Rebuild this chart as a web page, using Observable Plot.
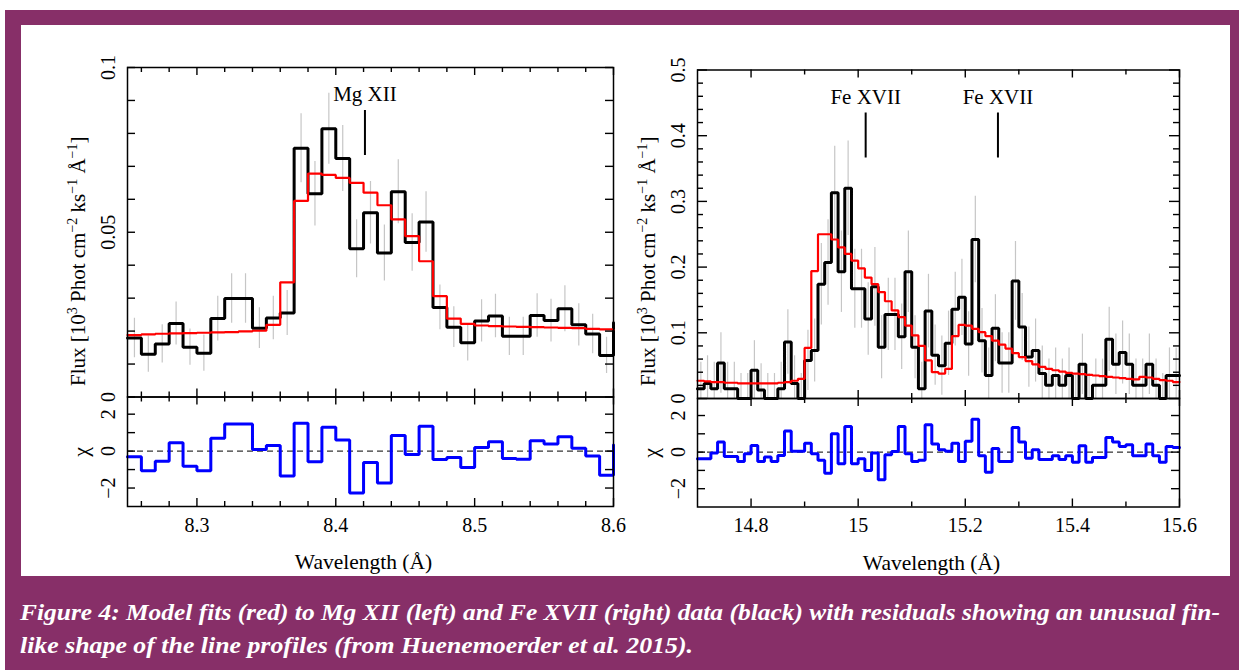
<!DOCTYPE html>
<html>
<head>
<meta charset="utf-8">
<script src="https://cdn.jsdelivr.net/npm/d3@7"></script>
<script src="https://cdn.jsdelivr.net/npm/@observablehq/plot@0.6"></script>
<style>
  html, body { margin: 0; padding: 0; background: #fff; }
  #page { position: relative; width: 1239px; height: 670px; overflow: hidden; }
  #band { position: absolute; left: 5px; top: 10px; width: 1234px; height: 660px; background: #872f68; }
  #sheet { position: absolute; left: 21px; top: 25px; width: 1209px; height: 551px; background: #fff; }
  #page svg { position: absolute; left: 0; top: 0; }
</style>
</head>
<body>
<div id="page">
  <div id="band"></div>
  <div id="sheet"></div>
</div>
<script>
// ---------- Mg XII (left) : 0.01 Å bins starting at 8.25 Å ----------
const mgStart = 8.25;
const mgBin = 0.01;
// last entry is the bin just past 8.6 Å (only its edge shows)
const mgFlux = [0.0179,0.0130,0.0161,0.0223,0.0151,0.0133,0.0238,0.0299,0.0299,0.0209,0.0240,0.0255,0.0755,0.0617,0.0814,0.0724,0.0450,0.0559,0.0437,0.0623,0.0469,0.0531,0.0272,0.0212,0.0165,0.0231,0.0246,0.0184,0.0184,0.0247,0.0232,0.0268,0.0219,0.0191,0.0126,0.0225];
const mgModel = [0.0188,0.0190,0.0192,0.0193,0.0194,0.0195,0.0196,0.0197,0.0199,0.0201,0.0219,0.0348,0.0595,0.0678,0.0674,0.0665,0.0650,0.0620,0.0582,0.0539,0.0488,0.0412,0.0306,0.0238,0.0222,0.0217,0.0215,0.0214,0.0213,0.0212,0.0211,0.0210,0.0209,0.0207,0.0205,0.0204];
const mgErr = [0.0060,0.0055,0.0058,0.0065,0.0055,0.0055,0.0068,0.0075,0.0075,0.0062,0.0066,0.0068,0.0105,0.0098,0.0108,0.0100,0.0088,0.0095,0.0085,0.0097,0.0087,0.0092,0.0068,0.0062,0.0056,0.0064,0.0066,0.0058,0.0058,0.0066,0.0065,0.0070,0.0064,0.0060,0.0055];
const mgChi = [-0.31,-1.07,-0.55,0.45,-0.82,-1.07,0.69,1.47,1.47,0.09,0.31,-1.35,1.51,-0.58,1.29,0.60,-2.27,-0.62,-1.73,0.85,-0.18,1.35,-0.45,-0.35,-0.89,0.20,0.51,-0.40,-0.44,0.56,0.38,0.78,0.15,-0.27,-1.31,0.33];
const mgLines = [{ion: "Mg XII", wavelength: 8.421}];

// ---------- Fe XVII (right) : 0.0125 Å bins starting at 14.7 Å ----------
const feStart = 14.7;
const feBin = 0.0125;
const feFlux = [0.015,0.023,0.015,0.054,0.015,0.015,0.0,0.0,0.043,0.013,0.0,0.0,0.015,0.086,0.023,0.0,0.058,0.073,0.174,0.207,0.313,0.193,0.32,0.167,0.167,0.121,0.17,0.078,0.128,0.128,0.094,0.193,0.078,0.015,0.133,0.066,0.05,0.084,0.136,0.154,0.083,0.242,0.088,0.035,0.107,0.054,0.054,0.179,0.109,0.063,0.073,0.038,0.02,0.035,0.02,0.035,0.0,0.052,0.0,0.02,0.02,0.09,0.052,0.07,0.052,0.02,0.02,0.052,0.02,0.0,0.035,0.035,0.035];
const feModel = [0.027,0.026,0.025,0.025,0.024,0.024,0.023,0.023,0.023,0.023,0.023,0.023,0.024,0.025,0.027,0.030,0.077,0.194,0.25,0.25,0.242,0.23,0.22,0.21,0.198,0.184,0.174,0.162,0.148,0.134,0.124,0.111,0.096,0.08,0.058,0.04,0.038,0.045,0.095,0.112,0.111,0.106,0.101,0.095,0.088,0.082,0.076,0.069,0.063,0.057,0.052,0.048,0.045,0.043,0.041,0.039,0.038,0.037,0.036,0.035,0.034,0.033,0.032,0.031,0.030,0.029,0.033,0.032,0.030,0.028,0.027,0.025,0.025];
const feErr = [0.040,0.042,0.040,0.046,0.040,0.040,0.038,0.038,0.045,0.040,0.038,0.038,0.040,0.049,0.042,0.038,0.046,0.048,0.062,0.065,0.071,0.062,0.072,0.060,0.060,0.055,0.060,0.048,0.055,0.055,0.050,0.062,0.048,0.040,0.056,0.046,0.045,0.049,0.056,0.058,0.049,0.066,0.049,0.042,0.051,0.046,0.046,0.060,0.051,0.046,0.048,0.042,0.040,0.042,0.040,0.042,0.038,0.046,0.038,0.040,0.040,0.049,0.046,0.048,0.046,0.040,0.040,0.046,0.040,0.038,0.042,0.042];
const feChi = [-0.36,-0.36,-0.05,0.55,-0.24,-0.24,-0.51,-0.09,0.36,-0.51,-0.27,-0.51,-0.18,1.15,0.05,0.05,0.49,-0.09,-0.45,-1.15,1.0,-0.64,1.4,-0.64,-0.36,-1.0,-0.05,-1.51,-0.15,0.04,1.4,-0.09,-0.51,-0.45,1.5,0.45,0.13,0.05,0.49,-0.51,0.6,1.8,-0.2,-1.1,0.2,-0.51,-0.51,1.35,0.55,-0.33,0.13,-0.4,-0.4,-0.2,-0.4,-0.2,-0.55,0.35,-0.55,-0.3,-0.3,0.8,0.55,0.3,0.4,-0.2,-0.2,0.45,-0.2,-0.55,0.3,0.25,0.25];
const feLines = [{ion: "Fe XVII", wavelength: 15.014}, {ion: "Fe XVII", wavelength: 15.261}];

// ---------- axis ticks and labels ----------
const mgXMajor = [8.3, 8.4, 8.5, 8.6];
const mgXMinor = [8.26, 8.28, 8.32, 8.34, 8.36, 8.38, 8.42, 8.44, 8.46, 8.48, 8.52, 8.54, 8.56, 8.58];
const mgYMajor = [0, 0.05, 0.1];
const mgYMinor = [0.01, 0.02, 0.03, 0.04, 0.06, 0.07, 0.08, 0.09];
const feXMajor = [14.8, 15, 15.2, 15.4, 15.6];
const feXMinor = [14.9, 15.1, 15.3, 15.5];
const feYMajor = [0, 0.1, 0.2, 0.3, 0.4, 0.5];
const feYMinor = [0.02, 0.04, 0.06, 0.08, 0.12, 0.14, 0.16, 0.18, 0.22, 0.24, 0.26, 0.28, 0.32, 0.34, 0.36, 0.38, 0.42, 0.44, 0.46, 0.48];
const chiMajor = [-2, 0, 2];
const chiMinor = [-1, 1];

const fluxTitle = [["Flux [10", false], ["3", true], [" Phot cm", false], ["−2", true], [" ks", false], ["−1", true], [" Å", false], ["−1", true], ["]", false]];
const xTitle = "Wavelength (Å)";
const captionLines = [
  "Figure 4: Model fits (red) to Mg XII (left) and Fe XVII (right) data (black) with residuals showing an unusual fin-",
  "like shape of the line profiles (from Huenemoerder et al. 2015)."
];

// ---------- drawing ----------
const W = 1239, H = 670;
const serif = '"Liberation Serif", "Times New Roman", Times, serif';
const fmt = d => String(d).replace("-", "−");

const steps = (start, width, values) => values.map((v, i) => ({x: start + i * width, v}));
const bars = (start, width, values, errs) =>
  errs.map((e, i) => ({x: start + (i + 0.5) * width, lo: values[i] - e, hi: values[i] + e}));

function frameTicks(box, xd, yd, xs, ys) {
  const [x0, y0, x1, y1] = box;
  const kx = (xd[1] - xd[0]) / (x1 - x0);
  const ky = (yd[1] - yd[0]) / (y1 - y0);
  const st = {stroke: "#000", strokeWidth: 1.4};
  const out = [];
  for (const [vals, len] of xs) {
    out.push(Plot.ruleX(vals, {x: d => d, y1: yd[0], y2: yd[0] + len * ky, ...st}));
    out.push(Plot.ruleX(vals, {x: d => d, y1: yd[1], y2: yd[1] - len * ky, ...st}));
  }
  for (const [vals, len] of ys) {
    out.push(Plot.ruleY(vals, {y: d => d, x1: xd[0], x2: xd[0] + len * kx, ...st}));
    out.push(Plot.ruleY(vals, {y: d => d, x1: xd[1], x2: xd[1] - len * kx, ...st}));
  }
  return out;
}

function panel(box, xd, yd, marks) {
  const [x0, y0, x1, y1] = box;
  return Plot.plot({
    width: W, height: H,
    marginLeft: x0, marginRight: W - x1, marginTop: y0, marginBottom: H - y1,
    x: {domain: xd, axis: null},
    y: {domain: yd, axis: null},
    style: {background: "transparent", overflow: "visible", fontFamily: serif, fontSize: "20px", color: "#000"},
    marks
  });
}

function yLabels(values) {
  return Plot.text(values, {y: d => d, text: fmt, frameAnchor: "left", dx: -19, rotate: -90,
    textAnchor: "middle", lineAnchor: "middle", fill: "#000"});
}

function addFluxTitle(svg, x, y) {
  const t = d3.select(svg).append("text")
    .attr("transform", `translate(${x},${y}) rotate(-90)`)
    .attr("text-anchor", "start")
    .attr("font-family", serif).attr("font-size", 21).attr("fill", "#000");
  let raised = false;
  for (const [s, sup] of fluxTitle) {
    const span = t.append("tspan").text(s);
    if (sup && !raised) { span.attr("dy", -8).attr("font-size", 14); raised = true; }
    else if (sup) { span.attr("font-size", 14); }
    else if (raised) { span.attr("dy", 8); raised = false; }
  }
}

function buildSide(cfg) {
  const page = document.getElementById("page");
  const {fluxBox, chiBox, xd, fd, cd, start, width, flux, model, err, chi, lines,
         xMajor, xMinor, fMajor, fMinor, fTickMajor, fTickMinor, xTickMajor, xTickMinor, titleX, titleY} = cfg;
  const kyF = (fd[1] - fd[0]) / (fluxBox[3] - fluxBox[1]);

  const top = panel(fluxBox, xd, fd, [
    Plot.ruleX(bars(start, width, flux, err), {x: "x", y1: "lo", y2: "hi", stroke: "#c6c6c6", strokeWidth: 1.2, clip: true}),
    Plot.line(steps(start, width, flux), {x: "x", y: "v", curve: "step-after", stroke: "#000", strokeWidth: 3, strokeLinejoin: "miter"}),
    Plot.line(steps(start, width, model), {x: "x", y: "v", curve: "step-after", stroke: "#ff0000", strokeWidth: 2.2, strokeLinejoin: "miter"}),
    Plot.ruleX(lines, {x: "wavelength", y1: fd[1] - 43 * kyF, y2: fd[1] - 88 * kyF, stroke: "#000", strokeWidth: 2}),
    Plot.text(lines, {x: "wavelength", text: "ion", frameAnchor: "top", dy: 27, lineAnchor: "middle", fontSize: 21, fill: "#000"}),
    ...frameTicks(fluxBox, xd, fd, [[xMajor, xTickMajor], [xMinor, xTickMinor]], [[fMajor, fTickMajor], [fMinor, fTickMinor]]),
    yLabels(fMajor),
    Plot.frame({stroke: "#000", strokeWidth: 1.5})
  ]);
  addFluxTitle(top, titleX, titleY);
  page.appendChild(top);

  const bottom = panel(chiBox, xd, cd, [
    Plot.ruleY([0], {stroke: "#000", strokeWidth: 1, strokeDasharray: "6,4"}),
    Plot.line(steps(start, width, chi), {x: "x", y: "v", curve: "step-after", stroke: "#0000ff", strokeWidth: 3, strokeLinejoin: "miter"}),
    ...frameTicks(chiBox, xd, cd, [[xMajor, xTickMajor], [xMinor, xTickMinor]], [[chiMajor, 8], [chiMinor, 8]]),
    yLabels(chiMajor),
    Plot.text(["χ"], {frameAnchor: "left", dx: -47, rotate: -90, textAnchor: "middle", lineAnchor: "middle", fontSize: 22, fill: "#000"}),
    Plot.text(xMajor, {x: d => d, text: fmt, frameAnchor: "bottom", dy: 19, lineAnchor: "middle", fill: "#000"}),
    Plot.text([xTitle], {frameAnchor: "bottom", dx: -7, dy: 56, lineAnchor: "middle", fontSize: 21.5, fill: "#000"}),
    Plot.frame({stroke: "#000", strokeWidth: 1.5})
  ]);
  page.appendChild(bottom);
}

buildSide({
  fluxBox: [127, 67, 613, 396.5], chiBox: [127, 396.5, 613, 506],
  xd: [8.25, 8.6], fd: [0, 0.1], cd: [-3, 2.93],
  start: mgStart, width: mgBin, flux: mgFlux, model: mgModel, err: mgErr, chi: mgChi, lines: mgLines,
  xMajor: mgXMajor, xMinor: mgXMinor, fMajor: mgYMajor, fMinor: mgYMinor,
  fTickMajor: 8, fTickMinor: 8, xTickMajor: 8, xTickMinor: 5, titleX: 85, titleY: 386
});

buildSide({
  fluxBox: [697, 69.5, 1179, 398], chiBox: [697, 398, 1179, 506.5],
  xd: [14.7, 15.6], fd: [0, 0.5], cd: [-3, 2.93],
  start: feStart, width: feBin, flux: feFlux, model: feModel, err: feErr, chi: feChi, lines: feLines,
  xMajor: feXMajor, xMinor: feXMinor, fMajor: feYMajor, fMinor: feYMinor,
  fTickMajor: 10, fTickMinor: 6, xTickMajor: 8, xTickMinor: 5, titleX: 655, titleY: 386
});

// caption on the purple band
const cap = d3.select("#page").append("svg")
  .attr("width", W).attr("height", H).style("position", "absolute").style("left", 0).style("top", 0);
const capLine = (s, y, len) => cap.append("text").attr("x", 20).attr("y", y)
  .attr("textLength", len).attr("lengthAdjust", "spacingAndGlyphs")
  .attr("font-family", serif).attr("font-style", "italic").attr("font-weight", "bold").attr("font-size", 24)
  .attr("fill", "#fff").text(s);
capLine(captionLines[0], 620, 1200);
capLine(captionLines[1], 653, 673);
</script>
</body>
</html>
